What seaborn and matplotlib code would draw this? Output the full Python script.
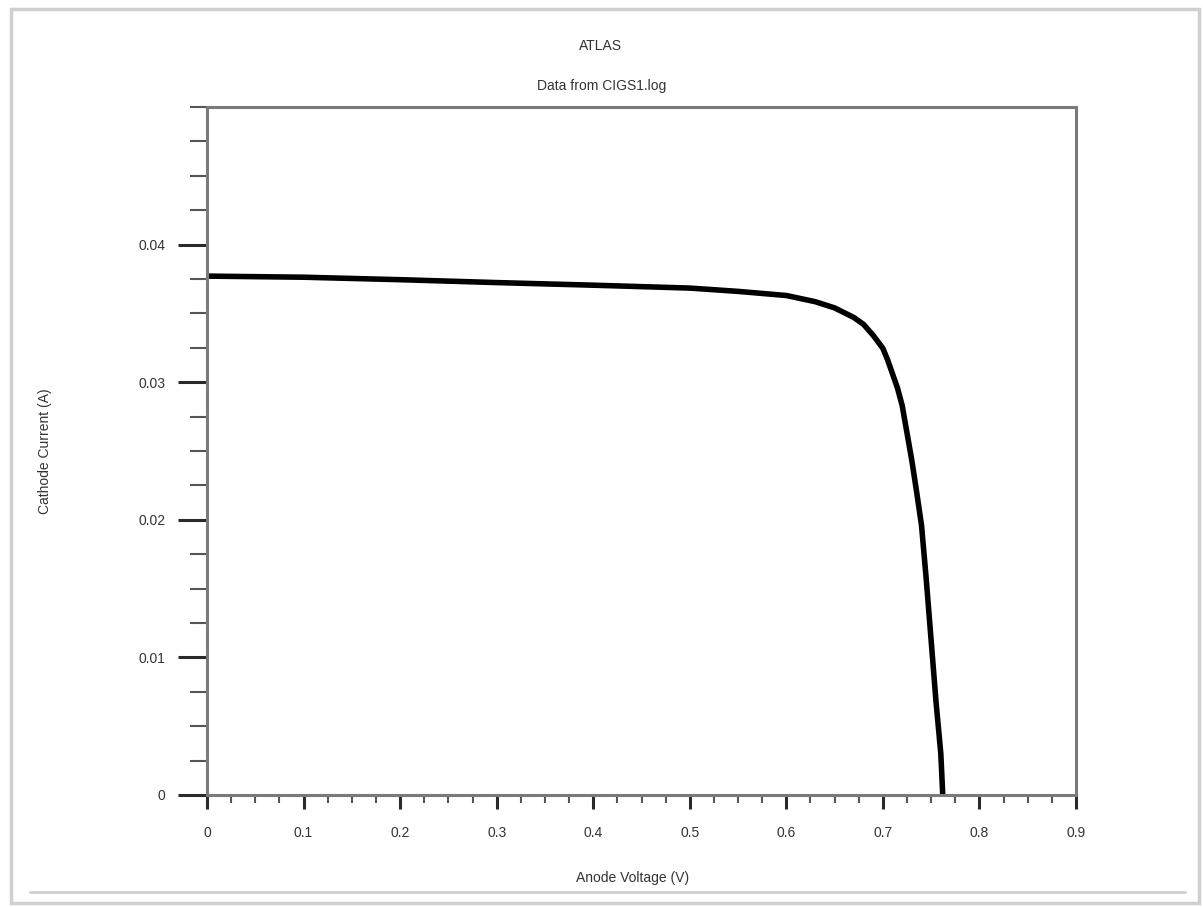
import matplotlib
matplotlib.use("Agg")
import matplotlib.pyplot as plt
import seaborn as sns
import pandas as pd
from matplotlib.ticker import MultipleLocator, FixedLocator
from matplotlib.patches import Rectangle
from matplotlib.lines import Line2D

voltage = [0.0, 0.1, 0.2, 0.3, 0.4, 0.5, 0.55, 0.6, 0.63, 0.65, 0.67, 0.68,
           0.69, 0.70, 0.705, 0.71, 0.715, 0.72, 0.725, 0.73, 0.735, 0.74,
           0.745, 0.75, 0.755, 0.76, 0.762]
current = [0.03771, 0.03763, 0.03745, 0.03724, 0.03705, 0.03684, 0.03660,
           0.03630, 0.03585, 0.03540, 0.03470, 0.03420, 0.03340, 0.03246,
           0.03160, 0.03060, 0.02960, 0.02830, 0.02630, 0.02430, 0.02200,
           0.01960, 0.01560, 0.01120, 0.00680, 0.00300, 0.0]
x_ticks = [0, 0.1, 0.2, 0.3, 0.4, 0.5, 0.6, 0.7, 0.8, 0.9]
x_labels = ["0", "0.1", "0.2", "0.3", "0.4", "0.5", "0.6", "0.7", "0.8", "0.9"]
y_ticks = [0, 0.01, 0.02, 0.03, 0.04]
y_labels = ["0", "0.01", "0.02", "0.03", "0.04"]

df = pd.DataFrame({"V": voltage, "I": current})

sns.set_theme(style="ticks")
plt.rcParams["font.family"] = ["Liberation Sans", "DejaVu Sans"]

fig = plt.figure(figsize=(12.03, 9.07), dpi=100)
ax = fig.add_axes([207/1203, 1-795/907, (1076-207)/1203, (795-107)/907])

sns.lineplot(data=df, x="V", y="I", color="black", linewidth=4, ax=ax,
             sort=False, estimator=None)

ax.set_xlim(0, 0.9)
ax.set_ylim(0, 0.05)

spine_c = "#7a7a7a"
for s in ax.spines.values():
    s.set_visible(True)
    s.set_color(spine_c)
    s.set_linewidth(2.2)

ax.xaxis.set_major_locator(FixedLocator(x_ticks))
ax.set_xticklabels(x_labels)
ax.xaxis.set_minor_locator(MultipleLocator(0.025))
ax.yaxis.set_major_locator(FixedLocator(y_ticks))
ax.set_yticklabels(y_labels)
ax.yaxis.set_minor_locator(MultipleLocator(0.0025))

tc = "#2a2a2a"
ax.tick_params(axis="x", which="major", direction="out", length=10, width=2.2,
               color=tc, labelsize=10, labelcolor="#333333", pad=12)
ax.tick_params(axis="x", which="minor", direction="out", length=6, width=1.5,
               color="#555555")
ax.tick_params(axis="y", which="major", direction="out", length=21, width=2.2,
               color=tc, labelsize=10, labelcolor="#333333", pad=9)
ax.tick_params(axis="y", which="minor", direction="out", length=12, width=1.5,
               color="#555555")
ax.tick_params(top=False, right=False, which="both")

ax.set_xlabel("Anode Voltage (V)", fontsize=10, color="#333333")
ax.set_ylabel("Cathode Current (A)", fontsize=10, color="#333333")
ax.xaxis.set_label_coords((633-207)/869, (795-871)/688)
ax.yaxis.set_label_coords((52-207)/869, 0.5)

fig.text(600/1203, 1-46/907, "ATLAS", ha="center", va="center",
         fontsize=10, color="#333333")
fig.text(602/1203, 1-86/907, "Data from CIGS1.log", ha="center", va="center",
         fontsize=10, color="#333333")

# outer frame
fig.patches.append(Rectangle((11/1203, 1-903/907), (1199-11)/1203, (903-9)/907,
                             transform=fig.transFigure, fill=False,
                             edgecolor="#d0d0d0", linewidth=2.5))
fig.lines.append(Line2D([30/1203, 1185/1203], [1-892/907, 1-892/907],
                        transform=fig.transFigure, color="#cfcfcf", linewidth=2))

fig.savefig("out.png", dpi=100, facecolor="white")
